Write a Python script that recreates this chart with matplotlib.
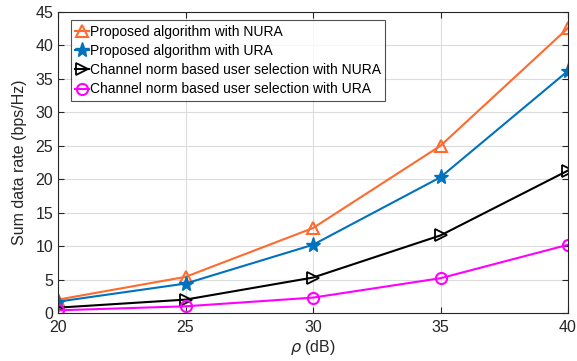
import matplotlib
matplotlib.use('Agg')
import matplotlib.pyplot as plt

# SNR points and sum rates (bps/Hz)
rho_db = [20, 25, 30, 35, 40]
prop_nura = [2.0, 5.4, 12.7, 25.0, 42.6]
prop_ura = [1.7, 4.4, 10.2, 20.3, 36.2]
norm_nura = [0.8, 2.0, 5.3, 11.6, 21.3]
norm_ura = [0.4, 1.0, 2.3, 5.2, 10.2]

labels = ['Proposed algorithm with NURA',
          'Proposed algorithm with URA',
          'Channel norm based user selection with NURA',
          'Channel norm based user selection with URA']

plt.rcParams['font.family'] = ['Liberation Sans', 'DejaVu Sans']
plt.rcParams['font.size'] = 10.5

fig = plt.figure(figsize=(5.77, 3.61), dpi=100)
ax = fig.add_axes([58 / 577, 1 - 313 / 361, 510 / 577, 301 / 361])

ax.plot(rho_db, prop_nura, color='#FF6A2E', lw=1.5, marker='^', ms=8,
        mfc='none', mew=1.5, label=labels[0])
ax.plot(rho_db, prop_ura, color='#0072BD', lw=1.5, marker='*', ms=11,
        label=labels[1])
ax.plot(rho_db, norm_nura, color='black', lw=1.5, marker='>', ms=8,
        mfc='none', mew=1.3, label=labels[2])
ax.plot(rho_db, norm_ura, color='#FF00FF', lw=1.5, marker='o', ms=8,
        mfc='none', mew=1.5, label=labels[3])

ax.set_xlim(20, 40)
ax.set_ylim(0, 45)
ax.set_xticks(range(20, 41, 5))
ax.set_yticks(range(0, 46, 5))
ax.tick_params(direction='in', top=True, right=True, colors='#262626',
               length=4, labelsize=11.5)
ax.tick_params(axis='x', pad=5)
ax.grid(True, color='#DCDCDC', lw=0.8)
ax.set_axisbelow(True)
for sp in ax.spines.values():
    sp.set_color('#262626')
ax.set_xlabel(r'$\rho$ (dB)', fontsize=11.5, color='#262626', labelpad=2)
ax.set_ylabel('Sum data rate (bps/Hz)', fontsize=11.5, color='#262626',
              labelpad=6)

leg = ax.legend(loc='upper left', bbox_to_anchor=(0.025, 0.972), fontsize=10,
                frameon=True, fancybox=False, edgecolor='#262626',
                handlelength=1.0, handletextpad=0.1, borderpad=0.3,
                labelspacing=0.38, borderaxespad=0)
leg.get_frame().set_linewidth(0.8)

fig.savefig('out.png', dpi=100)
